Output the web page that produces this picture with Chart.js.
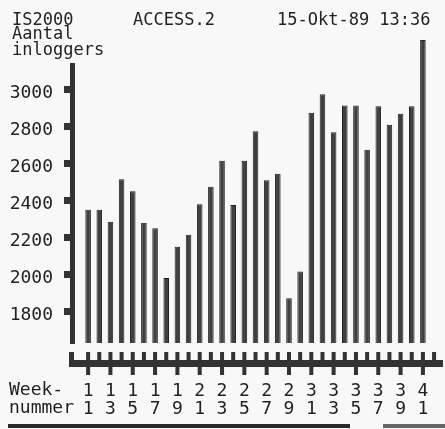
<!DOCTYPE html>
<html>
<head>
<meta charset="utf-8">
<script src="https://cdn.jsdelivr.net/npm/chart.js@4/dist/chart.umd.min.js"></script>
<style>
  html, body { margin: 0; padding: 0; background: #f8f8f8; }
  #wrap { width: 445px; height: 429px; }
</style>
</head>
<body>
<div id="wrap"><canvas id="c" width="445" height="429"></canvas></div>
<script>
// ---- data ----
const weeks = [11, 12, 13, 14, 15, 16, 17, 18, 19, 20, 21, 22, 23, 24, 25, 26,
               27, 28, 29, 30, 31, 32, 33, 34, 35, 36, 37, 38, 39, 40, 41];
const inloggers = [2350, 2350, 2285, 2515, 2450, 2280, 2250, 1980, 2150, 2215, 2380,
                   2475, 2615, 2375, 2615, 2775, 2510, 2545, 1870, 2015, 2875, 2975,
                   2770, 2915, 2915, 2675, 2910, 2810, 2870, 2910, 3270];
const yTicks = [1800, 2000, 2200, 2400, 2600, 2800, 3000];
const xTickWeeks = [11, 13, 15, 17, 19, 21, 23, 25, 27, 29, 31, 33, 35, 37, 39, 41];
const headerTexts = ['IS2000', 'ACCESS.2', '15-Okt-89 13:36'];
const yTitleLines = ['Aantal', 'inloggers'];
const xTitleLines = ['Week-', 'nummer'];

const INK = '#222';
const MONO = '"DejaVu Sans Mono", "Liberation Mono", monospace';

const decor = {
  id: 'decor',
  beforeDraw(chart) {
    const ctx = chart.ctx;
    ctx.save();
    ctx.fillStyle = '#f8f8f8';
    ctx.fillRect(0, 0, chart.width, chart.height);
    ctx.restore();
  },
  afterDraw(chart) {
    const ctx = chart.ctx;
    const ca = chart.chartArea;
    const xs = chart.scales.x;
    ctx.save();
    ctx.fillStyle = INK;
    ctx.font = '17px ' + MONO;
    ctx.textBaseline = 'alphabetic';
    ctx.textAlign = 'left';
    ctx.fillText(headerTexts[0], 12, 25);
    ctx.fillText(headerTexts[1], 133, 25);
    ctx.fillText(headerTexts[2], 277, 25);
    ctx.fillText(yTitleLines[0], 12, 39);
    ctx.fillText(yTitleLines[1], 12, 55);
    ctx.font = '18px ' + MONO;
    ctx.textBaseline = 'middle';
    ctx.fillText(xTitleLines[0], 9, 390);
    ctx.fillText(xTitleLines[1], 9, 408);

    // comb-shaped week axis
    ctx.fillStyle = '#333';
    const bandTop = ca.bottom + 17;
    const bandH = 7;
    const toothTop = ca.bottom + 9;
    ctx.fillRect(ca.left - 3, bandTop, ca.right - ca.left + 3, bandH);
    ctx.fillRect(ca.left - 3, toothTop, 5, bandTop - toothTop);
    const teeth = weeks.concat([weeks[weeks.length - 1] + 1]);
    teeth.forEach(w => {
      const x = xs.getPixelForValue(w);
      ctx.fillRect(x - 2, toothTop, 4, bandTop - toothTop);
    });
    xTickWeeks.forEach(w => {
      const x = xs.getPixelForValue(w);
      ctx.fillRect(x - 2, bandTop + bandH, 4, 8);
    });

    // rule at the bottom of the printout
    ctx.fillStyle = '#2a2a2a';
    ctx.fillRect(8, 424, 342, 4);
    ctx.fillStyle = '#666';
    ctx.fillRect(383, 424, 62, 4);
    ctx.restore();
  }
};

new Chart(document.getElementById('c'), {
  type: 'bar',
  data: {
    labels: weeks,
    datasets: [{
      data: inloggers,
      backgroundColor: '#404040',
      borderColor: '#222',
      borderWidth: 1,
      barPercentage: 0.5,
      categoryPercentage: 1,
      clip: { left: 0, top: false, right: 0, bottom: 0 }
    }]
  },
  options: {
    responsive: false,
    animation: false,
    devicePixelRatio: 1,
    layout: { padding: { top: 65, left: 0, right: 2, bottom: 0 } },
    plugins: { legend: { display: false }, tooltip: { enabled: false }, title: { display: false } },
    scales: {
      x: {
        type: 'linear',
        min: 9.556,
        max: 42.8,
        offset: false,
        afterBuildTicks: s => { s.ticks = xTickWeeks.map(v => ({ value: v })); },
        afterFit: s => { s.height = 86; s.paddingLeft = 0; s.paddingRight = 0; },
        grid: { display: false, drawTicks: false },
        border: { display: false },
        ticks: {
          autoSkip: false,
          maxRotation: 0,
          minRotation: 0,
          padding: 39,
          color: INK,
          font: { family: MONO, size: 18, lineHeight: 1.0 },
          callback: v => String(v).split('')
        }
      },
      y: {
        type: 'linear',
        min: 1628,
        max: 3134,
        afterBuildTicks: s => { s.ticks = yTicks.map(v => ({ value: v })); },
        afterFit: s => { s.width = 72; },
        grid: { drawOnChartArea: false, drawTicks: true, tickLength: 8, tickWidth: 7, tickColor: '#333', color: '#333' },
        border: { display: true, color: '#333', width: 5 },
        ticks: {
          padding: 11,
          labelOffset: 4,
          color: INK,
          font: { family: MONO, size: 18 },
          callback: v => String(v)
        }
      }
    }
  },
  plugins: [decor]
});
</script>
</body>
</html>
